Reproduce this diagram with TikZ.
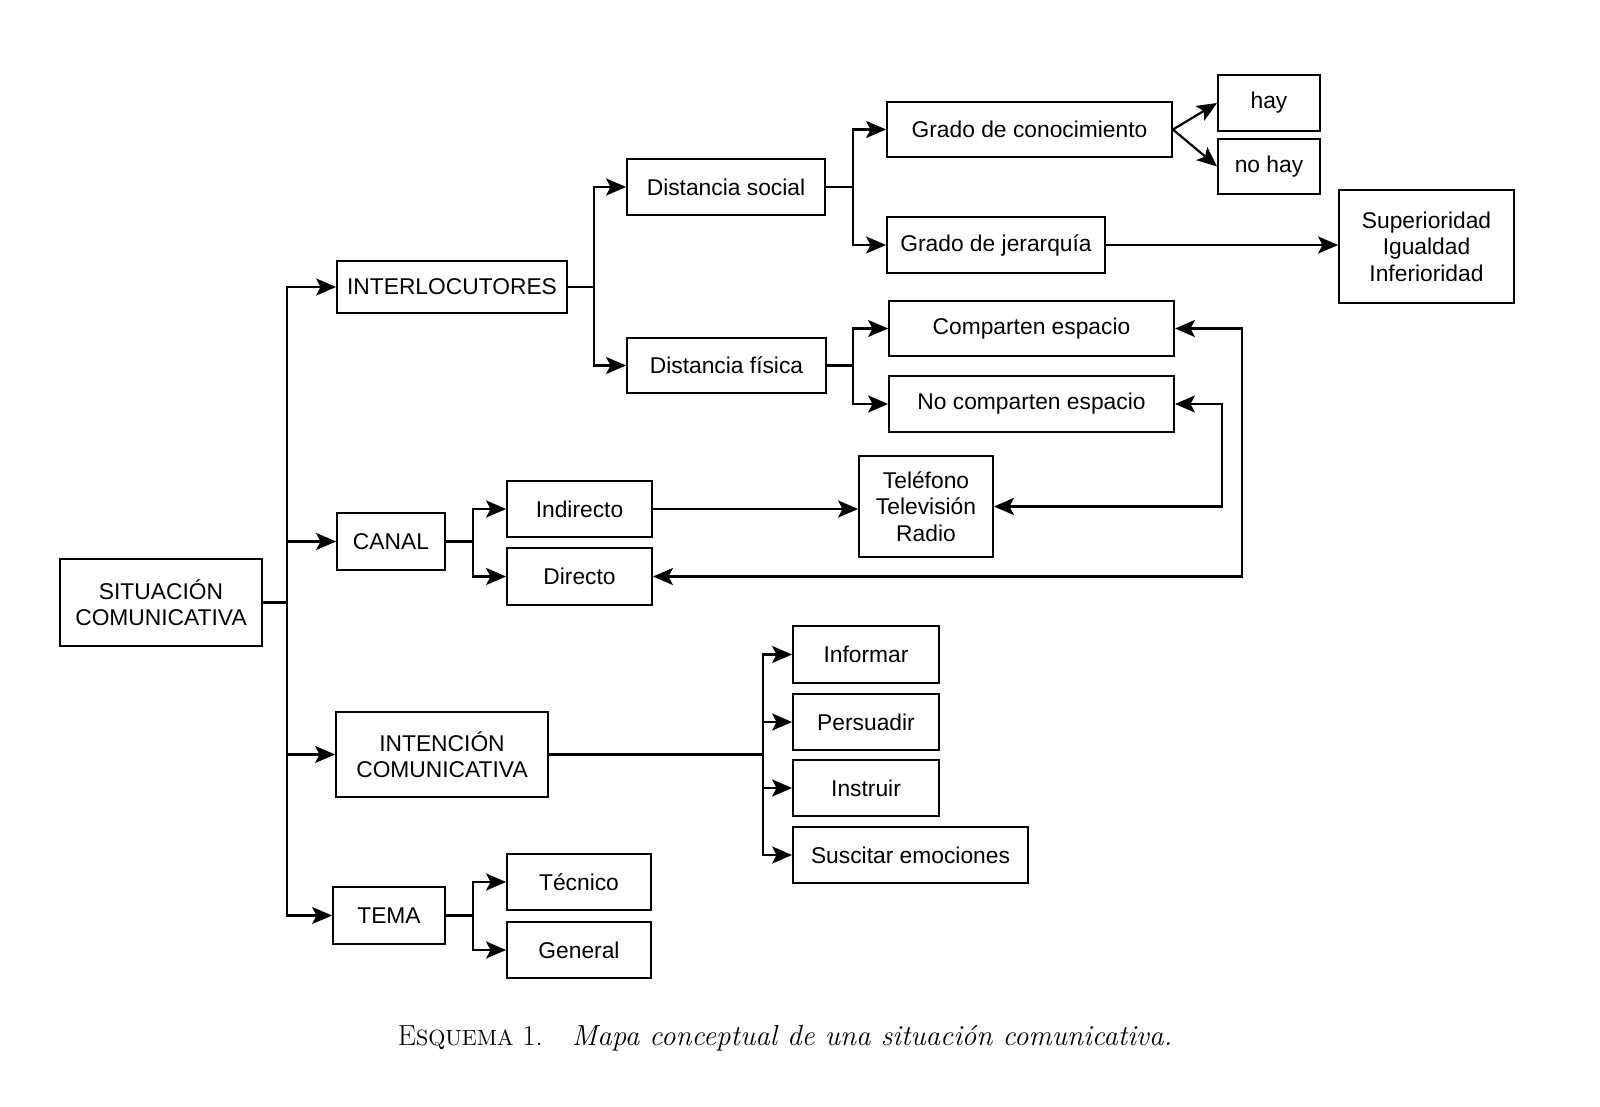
\documentclass[tikz,border=0pt]{standalone}
\usepackage{fontspec}
\setmainfont{Latin Modern Roman}
\newfontfamily\boxfont{Liberation Sans}
\usetikzlibrary{arrows.meta}
\begin{document}
\begin{tikzpicture}[x=0.5pt,y=-0.5pt,
  box/.style={draw, line width=0.9pt, inner sep=0pt, align=center,
    font=\boxfont\fontsize{11.4}{13.2}\selectfont},
  conn/.style={line width=1.1pt},
  tip/.tip={Stealth[length=10pt,width=8.5pt,inset=2.2pt]},
  arr/.style={conn, -tip},
  dbl/.style={conn, tip-tip}]
\useasboundingbox[fill=white] (0,0) rectangle (1600,1107);

% nodes
\node[box, minimum width=101pt, minimum height=43.5pt] (sit) at (161,602.5) {SITUACIÓN\\COMUNICATIVA};
\node[box, minimum width=115pt, minimum height=26pt] (inter) at (452,287) {INTERLOCUTORES};
\node[box, minimum width=54pt, minimum height=28.5pt] (canal) at (391,541.5) {CANAL};
\node[box, minimum width=106pt, minimum height=42.5pt] (inten) at (442,754.5) {INTENCIÓN\\COMUNICATIVA};
\node[box, minimum width=56pt, minimum height=28.5pt] (tema) at (389,915.5) {TEMA};

\node[box, minimum width=99pt, minimum height=28pt] (dsoc) at (726,187) {Distancia social};
\node[box, minimum width=99.5pt, minimum height=27.5pt] (dfis) at (726.5,365.5) {Distancia física};

\node[box, minimum width=142.5pt, minimum height=27.5pt] (gcon) at (1029.5,129.5) {Grado de conocimiento};
\node[box, minimum width=109pt, minimum height=28pt] (gjer) at (996,245) {Grado de jerarquía};
\node[box, minimum width=51pt, minimum height=28pt] (hay) at (1269,103) {hay};
\node[box, minimum width=51pt, minimum height=27.5pt] (nohay) at (1269,166.5) {no hay};
\node[box, minimum width=87.5pt, minimum height=56.5pt] (sup) at (1426.5,246.5) {Superioridad\\Igualdad\\Inferioridad};

\node[box, minimum width=142.5pt, minimum height=27.5pt] (comp) at (1031.5,328.5) {Comparten espacio};
\node[box, minimum width=142.5pt, minimum height=28pt] (nocomp) at (1031.5,404) {No comparten espacio};

\node[box, minimum width=67pt, minimum height=50.5pt] (tel) at (926,506.5) {Teléfono\\Televisión\\Radio};
\node[box, minimum width=72.5pt, minimum height=28pt] (indir) at (579.5,509) {Indirecto};
\node[box, minimum width=72.5pt, minimum height=28.5pt] (dir) at (579.5,576.5) {Directo};

\node[box, minimum width=73pt, minimum height=28.5pt] (inf) at (866,654.5) {Informar};
\node[box, minimum width=73pt, minimum height=28pt] (pers) at (866,722) {Persuadir};
\node[box, minimum width=73pt, minimum height=28pt] (instr) at (866,788) {Instruir};
\node[box, minimum width=117.5pt, minimum height=28pt] (susc) at (910.5,855) {Suscitar emociones};

\node[box, minimum width=72pt, minimum height=28pt] (tec) at (579,882) {Técnico};
\node[box, minimum width=72pt, minimum height=28pt] (gen) at (579,950) {General};

% junction coordinates
\coordinate (jt) at (287,602.5);
\coordinate (j1) at (594,287);
\coordinate (j2) at (853,187);
\coordinate (j3) at (853,365.5);
\coordinate (j4) at (473,541.5);
\coordinate (j5) at (763,754.5);
\coordinate (j6) at (473,915.5);
\coordinate (r1) at (1222,404);
\coordinate (r2) at (1242,328.5);

% connectors
\draw[conn] (sit.east) -- (jt);
\draw[arr] (jt) |- (inter.west);
\draw[arr] (jt) |- (canal.west);
\draw[arr] (jt) |- (inten.west);
\draw[arr] (jt) |- (tema.west);

\draw[conn] (inter.east) -- (j1);
\draw[arr] (j1) |- (dsoc.west);
\draw[arr] (j1) |- (dfis.west);

\draw[conn] (dsoc.east) -- (j2);
\draw[arr] (j2) |- (gcon.west);
\draw[arr] (j2) |- (gjer.west);
\draw[arr] (gcon.east) -- (hay.west);
\draw[arr] (gcon.east) -- (nohay.west);
\draw[arr] (gjer.east) -- (gjer.east -| sup.west);

\draw[conn] (dfis.east) -- (j3);
\draw[arr] (j3) |- (comp.west);
\draw[arr] (j3) |- (nocomp.west);

\draw[conn] (canal.east) -- (j4);
\draw[arr] (j4) |- (indir.west);
\draw[arr] (j4) |- (dir.west);
\draw[arr] (indir.east) -- (indir.east -| tel.west);

\draw[dbl] (nocomp.east) -- (r1) |- (tel.east);
\draw[dbl] (comp.east) -- (r2) |- (dir.east);

\draw[conn] (inten.east) -- (j5);
\draw[arr] (j5) |- (inf.west);
\draw[arr] (j5) |- (pers.west);
\draw[arr] (j5) |- (instr.west);
\draw[arr] (j5) |- (susc.west);

\draw[conn] (tema.east) -- (j6);
\draw[arr] (j6) |- (tec.west);
\draw[arr] (j6) |- (gen.west);

% caption
\node[font=\fontsize{14.5}{17}\selectfont, inner sep=0pt] (cap) at (785,1038)
  {E{\fontsize{11}{13}\selectfont SQUEMA} 1.\quad \textit{Mapa conceptual de una situación comunicativa.}};
\end{tikzpicture}
\end{document}
